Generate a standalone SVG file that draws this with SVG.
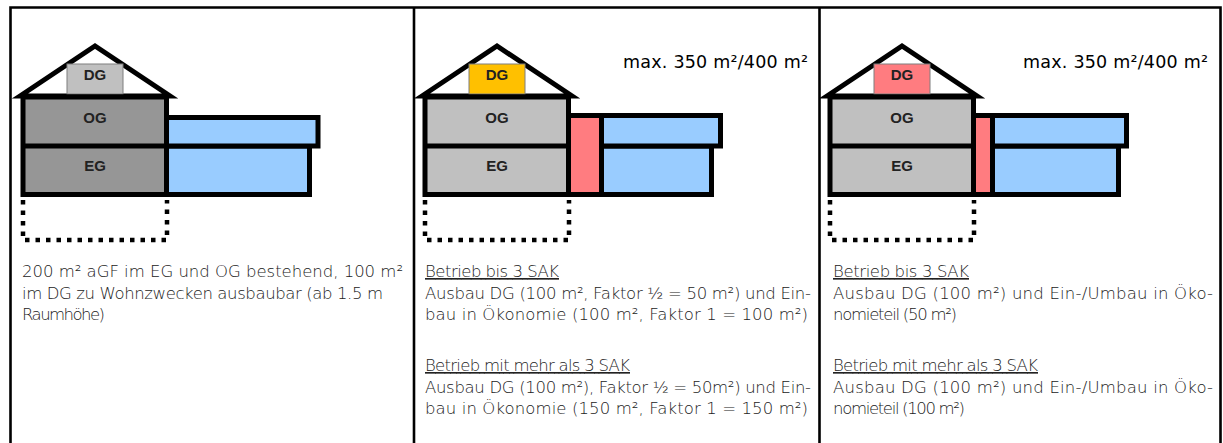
<svg xmlns="http://www.w3.org/2000/svg" width="1223" height="443" viewBox="0 0 1223 443">
<style>
.frame{fill:none;stroke:#000;stroke-width:2.6}
.roof{fill:#fff;stroke:#000;stroke-width:5;stroke-linejoin:miter;stroke-miterlimit:10}
.dg{stroke:#7f7f7f;stroke-width:1}
.body{stroke:#000;stroke-width:5}
.wall{fill:none;stroke:#000;stroke-width:5}
.dots{fill:none;stroke:#000;stroke-width:4.5;stroke-dasharray:4.5 6}
.blue{fill:#99ccff;stroke:#000;stroke-width:5}
.red{fill:#ff7c80;stroke:#000;stroke-width:5}
.lbl{font-family:"Liberation Sans",Arial,sans-serif;font-weight:bold;font-size:15px;fill:#222;text-anchor:middle}
.max{font-family:"DejaVu Sans","Liberation Sans",sans-serif;font-size:17.5px;fill:#000}
.txt{font-family:"DejaVu Sans","Liberation Sans",sans-serif;font-weight:200;font-size:16.5px;fill:#222}
.u{text-decoration:underline}
</style>
<defs>
<g id="house-shape">
<polygon class="roof" points="20,96 95,46 170,96"/>
</g>
</defs>
<rect width="1223" height="443" fill="#fff"/>
<g id="frame">
<path class="frame" d="M10.5,443 V7.5 H1220.5 V443 M414,7.5 V443 M819.5,7.5 V443"/>
</g>

<g id="panel1">
<g id="house1">
<use href="#house-shape"/>
<rect class="dg" x="67" y="64" width="56" height="30" fill="#c0c0c0"/>
<rect class="body" x="23" y="97" width="143.5" height="97.5" fill="#969696"/>
<line class="wall" x1="23" y1="146" x2="166.5" y2="146"/>
<path class="dots" d="M23,200 V240 H167 V200"/>
<text class="lbl" x="95" y="80">DG</text>
<text class="lbl" x="95" y="123">OG</text>
<text class="lbl" x="95" y="171">EG</text>
</g>
<g id="ext1">
<rect class="blue" x="166.5" y="146" width="143" height="48.5"/>
<rect class="blue" x="166.5" y="117.5" width="151.5" height="28.5"/>
</g>
<g id="text1">
<text class="txt" x="22" y="277" textLength="381" lengthAdjust="spacing">200 m² aGF im EG und OG bestehend, 100 m²</text>
<text class="txt" x="22" y="299" textLength="361" lengthAdjust="spacing">im DG zu Wohnzwecken ausbaubar (ab 1.5 m</text>
<text class="txt" x="22" y="320" textLength="83" lengthAdjust="spacing">Raumhöhe)</text>
</g>
</g>

<g id="panel2">
<g id="house2" transform="translate(402,0)">
<use href="#house-shape"/>
<rect class="dg" x="67" y="64" width="56" height="30" fill="#ffc000"/>
<rect class="body" x="23" y="97" width="143.5" height="97.5" fill="#c0c0c0"/>
<line class="wall" x1="23" y1="146" x2="166.5" y2="146"/>
<path class="dots" d="M23,200 V240 H167 V200"/>
<text class="lbl" x="95" y="80">DG</text>
<text class="lbl" x="95" y="123">OG</text>
<text class="lbl" x="95" y="171">EG</text>
</g>
<g id="ext2">
<rect class="red" x="568.5" y="115.5" width="33" height="79"/>
<rect class="blue" x="601.5" y="146" width="110" height="48.5"/>
<rect class="blue" x="601.5" y="115.5" width="119" height="30.5"/>
</g>
<text class="max" x="623" y="68" textLength="185" lengthAdjust="spacing">max. 350 m²/400 m²</text>
<g id="text2">
<text class="txt u" x="425" y="277" textLength="134" lengthAdjust="spacing">Betrieb bis 3 SAK</text>
<text class="txt" x="425" y="299" textLength="386" lengthAdjust="spacing">Ausbau DG (100 m², Faktor ½ = 50 m²) und Ein-</text>
<text class="txt" x="425" y="320" textLength="383" lengthAdjust="spacing">bau in Ökonomie (100 m², Faktor 1 = 100 m²)</text>
<text class="txt u" x="425" y="371" textLength="205" lengthAdjust="spacing">Betrieb mit mehr als 3 SAK</text>
<text class="txt" x="425" y="393" textLength="386" lengthAdjust="spacing">Ausbau DG (100 m²), Faktor ½ = 50m²) und Ein-</text>
<text class="txt" x="425" y="414" textLength="383" lengthAdjust="spacing">bau in Ökonomie (150 m², Faktor 1 = 150 m²)</text>
</g>
</g>

<g id="panel3">
<g id="house3" transform="translate(807,0)">
<use href="#house-shape"/>
<rect class="dg" x="67" y="64" width="56" height="30" fill="#ff7c80"/>
<rect class="body" x="23" y="97" width="143.5" height="97.5" fill="#c0c0c0"/>
<line class="wall" x1="23" y1="146" x2="166.5" y2="146"/>
<path class="dots" d="M23,200 V240 H167 V200"/>
<text class="lbl" x="95" y="80">DG</text>
<text class="lbl" x="95" y="123">OG</text>
<text class="lbl" x="95" y="171">EG</text>
</g>
<g id="ext3">
<rect class="red" x="973.5" y="115.5" width="19" height="79"/>
<rect class="blue" x="992.5" y="146" width="126" height="48.5"/>
<rect class="blue" x="992.5" y="115.5" width="134" height="30.5"/>
</g>
<text class="max" x="1023" y="68" textLength="185" lengthAdjust="spacing">max. 350 m²/400 m²</text>
<g id="text3">
<text class="txt u" x="833" y="277" textLength="136" lengthAdjust="spacing">Betrieb bis 3 SAK</text>
<text class="txt" x="833" y="299" textLength="380" lengthAdjust="spacing">Ausbau DG (100 m²) und Ein-/Umbau in Öko-</text>
<text class="txt" x="833" y="320" textLength="124" lengthAdjust="spacing">nomieteil (50 m²)</text>
<text class="txt u" x="833" y="371" textLength="205" lengthAdjust="spacing">Betrieb mit mehr als 3 SAK</text>
<text class="txt" x="833" y="393" textLength="380" lengthAdjust="spacing">Ausbau DG (100 m²) und Ein-/Umbau in Öko-</text>
<text class="txt" x="833" y="414" textLength="132" lengthAdjust="spacing">nomieteil (100 m²)</text>
</g>
</g>
</svg>
